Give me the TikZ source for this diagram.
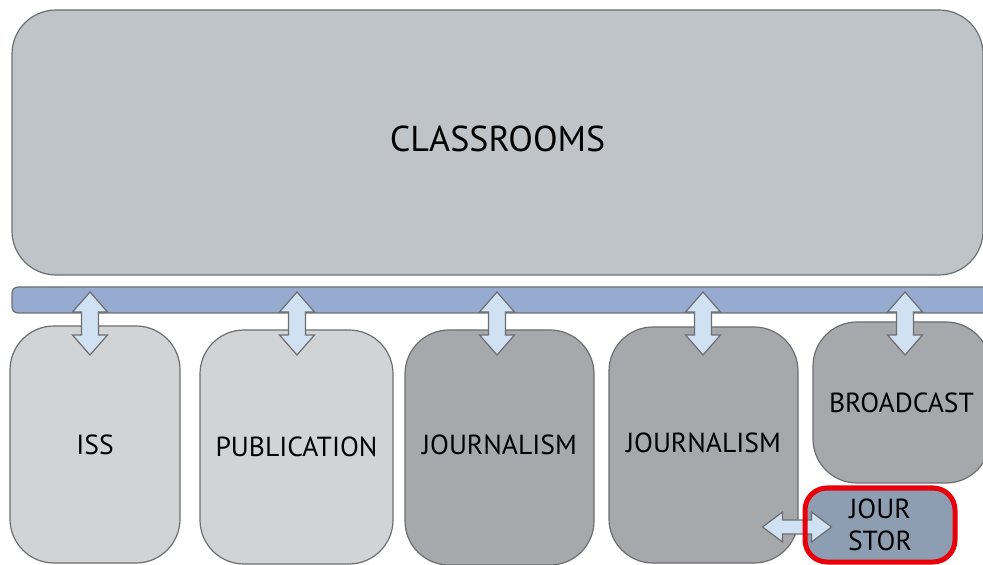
\documentclass[tikz,border=0pt]{standalone}
\usepackage{xcolor}
\usepackage{fontspec}
\setmainfont{PT Sans}
\usepackage{tikz}
\usetikzlibrary{positioning}

\definecolor{edgegray}{HTML}{6D6E70}
\definecolor{roomfill}{HTML}{BEC4C7}
\definecolor{busfill}{HTML}{96ABCF}
\definecolor{lightfill}{HTML}{D2D3D5}
\definecolor{darkfill}{HTML}{A7A8AB}
\definecolor{storfill}{HTML}{8E9EB2}
\definecolor{linkfill}{HTML}{CFE1F2}
\definecolor{markred}{HTML}{E8000B}

\begin{document}
\begin{tikzpicture}[
    x=0.5pt, y=-0.5pt,
    box/.style={draw=edgegray, line width=0.6pt, rounded corners=22pt, inner sep=0pt, align=center, font=\fontsize{13.8}{16}\selectfont},
    link/.style={draw=edgegray, fill=linkfill, line width=0.6pt},
    vlink/.pic={\path[link] (0,-31.5) -- (17.5,-11.5) -- (8.5,-11.5) -- (8.5,11.5) -- (17.5,11.5) -- (0,31.5)
        -- (-17.5,11.5) -- (-8.5,11.5) -- (-8.5,-11.5) -- (-17.5,-11.5) -- cycle;},
    hlink/.pic={\path[link] (-34.5,0) -- (-14.5,-15) -- (-14.5,-7) -- (14.5,-7) -- (14.5,-15) -- (34.5,0)
        -- (14.5,15) -- (14.5,7) -- (-14.5,7) -- (-14.5,15) -- cycle;},
]
\useasboundingbox (0,0) rectangle (983,565);
\node[box, fill=roomfill, minimum width=485.5pt, minimum height=132.5pt, font=\fontsize{18}{20}\selectfont] (cls) at (497.5,142.5) {\raisebox{3.5pt}{CLASSROOMS}};
\node[box, fill=busfill, rounded corners=3pt, minimum width=491.5pt, minimum height=13pt] (bus) at (503.5,300) {};
\node[box, fill=lightfill, minimum width=85pt, minimum height=118.5pt]   (iss) at (95,444.5) {ISS};
\node[box, fill=lightfill, minimum width=96.5pt, minimum height=117pt]   (pub) at (296.5,447) {PUBLICATION};
\node[box, fill=darkfill, minimum width=94.5pt, minimum height=117.5pt]  (jr1) at (499.5,447.5) {\raisebox{3pt}{JOURNALISM}};
\node[box, fill=darkfill, minimum width=94.5pt, minimum height=118pt]    (jr2) at (703.5,445) {\raisebox{2pt}{JOURNALISM}};
\node[box, fill=darkfill, minimum width=88.5pt, minimum height=80.5pt]   (bc)  at (901.5,402.5) {BROADCAST};
\node[box, fill=storfill, rounded corners=10pt, minimum width=75pt, minimum height=37pt] (js) at (880,525) {JOUR\\STOR};
% links between the bus and the rooms
\pic (a1) at (90,323.5) {vlink};
\pic (a2) at (297,323.5) {vlink};
\pic (a3) at (497,323.5) {vlink};
\pic (a4) at (703,323.5) {vlink};
\pic (a5) at (905,323.5) {vlink};
\pic (a6) at (797,527) {hlink};
\node[draw=markred, line width=2.5pt, rounded corners=11pt, inner sep=0pt, minimum width=75pt, minimum height=37pt] (jsmark) at (js) {};
\end{tikzpicture}
\end{document}
